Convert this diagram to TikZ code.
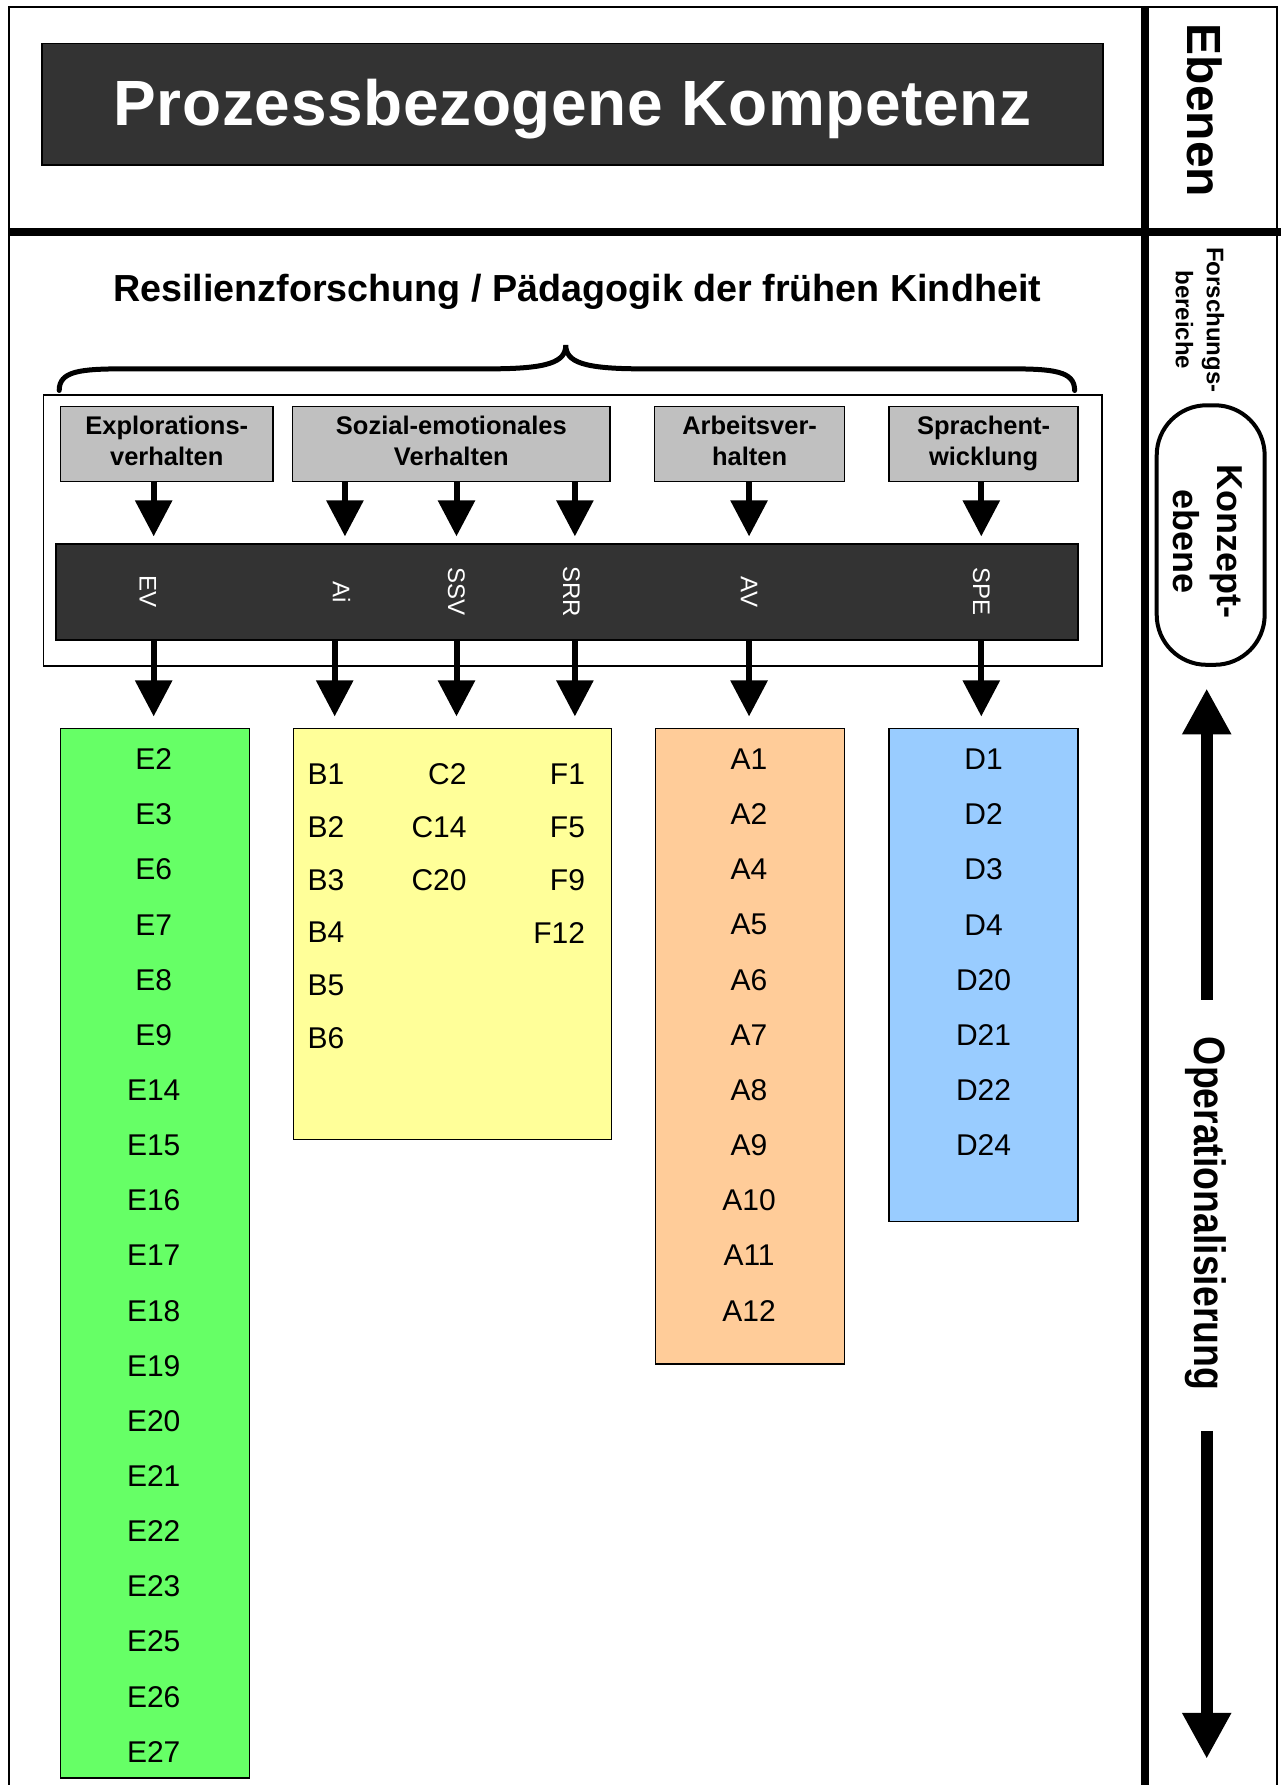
\documentclass[tikz,border=0pt]{standalone}
\usepackage{fontspec}
\setmainfont{Liberation Sans}
\newfontfamily\spacedfont[LetterSpace=1]{Liberation Sans}
\usetikzlibrary{arrows.meta}
\definecolor{darkfill}{HTML}{333333}
\definecolor{grayfill}{HTML}{C0C0C0}
\definecolor{greenfill}{HTML}{66FF66}
\definecolor{yellowfill}{HTML}{FFFF99}
\definecolor{orangefill}{HTML}{FFCC99}
\definecolor{bluefill}{HTML}{99CCFF}
\tikzset{
  box/.style={draw=black, line width=1.5pt, inner sep=0pt},
  graybox/.style={box, fill=grayfill, minimum height=75.2pt},
  graytext/.style={inner sep=0pt, align=center, font=\bfseries\fontsize{25.5}{30.5}\selectfont},
  colbox/.style={box, minimum width=189pt},
  item/.style={inner sep=0pt, font=\fontsize{30}{30}\selectfont},
  bandlbl/.style={rotate=-90, inner sep=0pt, text=white, font=\fontsize{24}{24}\selectfont},
  arr/.style={line width=6pt, -{Triangle[width=36pt,length=36pt]}},
  rarr/.style={line width=12pt, -{Triangle[width=46pt,length=46pt]}},
  vtext/.style={rotate=-90, inner sep=0pt, align=center}
}
\begin{document}
\begin{tikzpicture}[x=1.1387pt,y=-1.1387pt]
\useasboundingbox (0,0) rectangle (1125,1568);
% frame lines
\draw[line width=2pt] (8,1570) -- (8,6) -- (1122,6) -- (1122,1570);
\draw[line width=8pt] (1006,6) -- (1006,1570);
\draw[line width=8pt] (8,204) -- (1127,204);
% title
\node[box, fill=darkfill, minimum width=1061.3pt, minimum height=121.8pt] (title) at (503,91.5) {};
\node[inner sep=0pt, text=white, font=\spacedfont\bfseries\fontsize{64}{64}\selectfont] (titletext) at (503,96) {Prozessbezogene Kompetenz};
% subtitle
\node[inner sep=0pt, font=\bfseries\fontsize{37.7}{37.7}\selectfont] (resil) at (507,256) {Resilienzforschung / Pädagogik der frühen Kindheit};
% brace
\draw[line width=5pt, line cap=round] (52,343) .. controls (52,326) and (70,324) .. (110,324) -- (430,324)
  .. controls (482,324) and (497,318) .. (497,303)
  .. controls (497,318) and (512,324) .. (564,324) -- (886,324)
  .. controls (926,324) and (944,326) .. (944,343);
% frame around categories
\node[draw=black, line width=1.5pt, minimum width=1059pt, minimum height=271pt] (frame) at (503,466) {};
% gray boxes
\node[graybox, minimum width=212.9pt] (gEV) at (146.5,390) {};
\node[graybox, minimum width=317.7pt] (gSE) at (396.5,390) {};
\node[graybox, minimum width=190.2pt] (gAV) at (658.5,390) {};
\node[graybox, minimum width=189pt] (gSP) at (864,390) {};
\node[graytext] (tEV) at (146.5,390) {\strut Explorations-\\verhalten\strut};
\node[graytext] (tSE) at (396.5,390) {\strut Sozial-emotionales\\Verhalten\strut};
\node[graytext] (tAV) at (658.5,390) {\strut Arbeitsver-\\halten\strut};
\node[graytext] (tSP) at (864,390) {\strut Sprachent-\\wicklung\strut};
% band
\node[box, fill=darkfill, minimum width=1022.6pt, minimum height=95.7pt] (band) at (498,520) {};
\node[bandlbl] (lEV) at (130,520) {EV};
\node[bandlbl] (lAi) at (300,520) {Ai};
\node[bandlbl] (lSSV) at (401,520) {SSV};
\node[bandlbl] (lSRR) at (502,520) {SRR};
\node[bandlbl] (lAV) at (658,520) {AV};
\node[bandlbl] (lSPE) at (862,520) {SPE};
% colored boxes
\node[colbox, fill=greenfill, minimum height=1049.9pt] (green) at (136,1101) {};
\node[box, fill=yellowfill, minimum width=317.7pt, minimum height=411.1pt] (yellow) at (397.5,820.5) {};
\node[colbox, fill=orangefill, minimum height=635.4pt] (orange) at (659,919) {};
\node[colbox, fill=bluefill, minimum height=493.1pt] (blue) at (864,856.5) {};
% arrow x positions
\coordinate (xEV) at (135,0);
\coordinate (xAiu) at (303,0);
\coordinate (xAil) at (294,0);
\coordinate (xSSV) at (401,0);
\coordinate (xSRR) at (505,0);
\coordinate (xAV) at (658,0);
\coordinate (xSPE) at (862,0);
% upper arrows
\draw[arr, shorten >=7pt] (gEV.south -| xEV) -- (band.north -| xEV);
\draw[arr, shorten >=7pt] (gSE.south -| xAiu) -- (band.north -| xAiu);
\draw[arr, shorten >=7pt] (gSE.south -| xSSV) -- (band.north -| xSSV);
\draw[arr, shorten >=7pt] (gSE.south -| xSRR) -- (band.north -| xSRR);
\draw[arr, shorten >=7pt] (gAV.south -| xAV) -- (band.north -| xAV);
\draw[arr, shorten >=7pt] (gSP.south -| xSPE) -- (band.north -| xSPE);
% lower arrows
\draw[arr, shorten >=11.4pt] (band.south -| xEV) -- (green.north -| xEV);
\draw[arr, shorten >=11.4pt] (band.south -| xAil) -- (yellow.north -| xAil);
\draw[arr, shorten >=11.4pt] (band.south -| xSSV) -- (yellow.north -| xSSV);
\draw[arr, shorten >=11.4pt] (band.south -| xSRR) -- (yellow.north -| xSRR);
\draw[arr, shorten >=11.4pt] (band.south -| xAV) -- (orange.north -| xAV);
\draw[arr, shorten >=11.4pt] (band.south -| xSPE) -- (blue.north -| xSPE);
% items
\foreach \t [count=\i from 0] in {E2,E3,E6,E7,E8,E9,E14,E15,E16,E17,E18,E19,E20,E21,E22,E23,E25,E26,E27}
  \node[item] (e\i) at (135,{667+48.44*\i}) {\t};
\foreach \t [count=\i from 0] in {B1,B2,B3,B4,B5,B6}
  \node[item, anchor=west] (b\i) at (270,{680+46.4*\i}) {\t};
\foreach \t [count=\i from 0] in {C2,C14,C20}
  \node[item, anchor=east] (c\i) at (410,{680+46.4*\i}) {\t};
\foreach \t [count=\i from 0] in {F1,F5,F9,F12}
  \node[item, anchor=east] (f\i) at (514,{680+46.4*\i}) {\t};
\foreach \t [count=\i from 0] in {A1,A2,A4,A5,A6,A7,A8,A9,A10,A11,A12}
  \node[item] (a\i) at (658,{667+48.44*\i}) {\t};
\foreach \t [count=\i from 0] in {D1,D2,D3,D4,D20,D21,D22,D24}
  \node[item] (d\i) at (864,{667+48.44*\i}) {\t};
% right column
\node[vtext, font=\bfseries\fontsize{48}{48}\selectfont] (ebenen) at (1058,97) {Ebenen};
\node[vtext, font=\bfseries\fontsize{24}{31}\selectfont] (forsch) at (1054,281) {Forschungs-\\bereiche};
\node[draw=black, line width=4pt, rounded corners=50pt, minimum width=108pt, minimum height=259.6pt] (konzbox) at (1063.5,470) {};
\node[vtext, font=\bfseries\fontsize{36}{44}\selectfont] (konz) at (1061,476) {Konzept-\\ebene};
\node[vtext, font=\bfseries\fontsize{44}{44}\selectfont] (oper) at (1059,1066) {\scalebox{0.85}[1]{Operationalisierung}};
\coordinate (upS) at (1060,878);
\coordinate (dnS) at (1060,1257);
\coordinate (dnE) at (1060,1545);
\draw[rarr, shorten >=21.6pt] (upS) -- (konzbox.south -| upS);
\draw[rarr] (dnS) -- (dnE);
\end{tikzpicture}
\end{document}
